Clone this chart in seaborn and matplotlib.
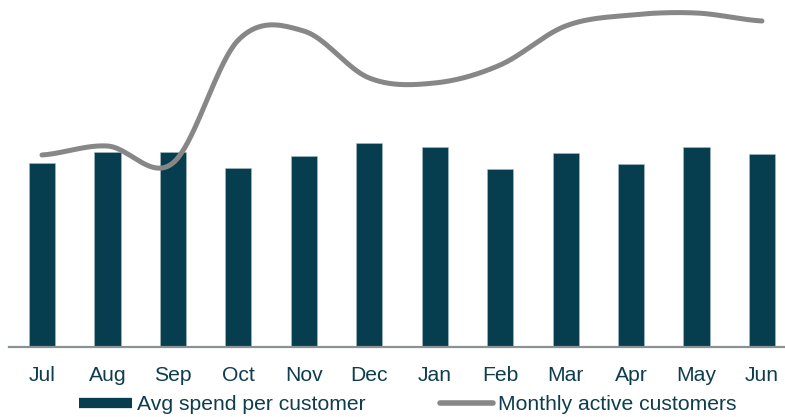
import numpy as np
import pandas as pd
import matplotlib
matplotlib.use("Agg")
import matplotlib.pyplot as plt
from matplotlib.lines import Line2D
import seaborn as sns

months = ["Jul", "Aug", "Sep", "Oct", "Nov", "Dec", "Jan", "Feb", "Mar", "Apr", "May", "Jun"]
avg_spend = [46.0, 48.8, 48.8, 44.8, 47.8, 51.0, 50.0, 44.5, 48.5, 45.8, 50.0, 48.3]
active_customers = [9.6, 10.05, 9.2, 15.35, 15.8, 13.45, 13.2, 14.1, 16.05, 16.6, 16.7, 16.3]

BAR_COLOR = "#073e4f"
LINE_COLOR = "#878787"
TEXT_COLOR = "#0e3d4e"
AXIS_COLOR = "#8a9294"
FONT_SIZE = 15.2

sns.set_theme(style="white")
plt.rcParams["font.family"] = ["Liberation Sans", "DejaVu Sans"]

fig = plt.figure(figsize=(7.85, 4.17), dpi=100)
W, H = 785, 417
step = 65.45
left_px = 42 - 0.5 * step
ax = fig.add_axes([left_px / W, 70 / H, 12 * step / W, 347 / H])

df = pd.DataFrame({"month": months, "spend": avg_spend})
sns.barplot(data=df, x="month", y="spend", color=BAR_COLOR, saturation=1,
            width=0.4, edgecolor="#a9c0c6", linewidth=0.4, ax=ax)
ax.set_xlim(-0.5, 11.5)
ax.set_ylim(0, 86.75)
ax.set_xlabel("")
ax.set_ylabel("")
ax.set_yticks([])
for s in ["left", "right", "top"]:
    ax.spines[s].set_visible(False)
ax.spines["bottom"].set_color(AXIS_COLOR)
ax.spines["bottom"].set_linewidth(1.6)
ax.tick_params(axis="x", length=0, pad=14, labelsize=FONT_SIZE, labelcolor=TEXT_COLOR)

# Smoothed line (cubic Hermite / Catmull-Rom through each monthly value)
ax2 = ax.twinx()
y = np.asarray(active_customers, dtype=float)
n = len(y)
tang = np.empty(n)
tang[1:-1] = (y[2:] - y[:-2]) / 2
tang[0] = (y[1] - y[0]) / 2
tang[-1] = (y[-1] - y[-2]) / 2
xs, ys = [], []
t = np.linspace(0, 1, 40)
h00 = 2 * t**3 - 3 * t**2 + 1
h10 = t**3 - 2 * t**2 + t
h01 = -2 * t**3 + 3 * t**2
h11 = t**3 - t**2
for i in range(n - 1):
    xs.append(i + t)
    ys.append(h00 * y[i] + h10 * tang[i] + h01 * y[i + 1] + h11 * tang[i + 1])
ax2.plot(np.concatenate(xs), np.concatenate(ys), color=LINE_COLOR, lw=3.6,
         solid_capstyle="round", solid_joinstyle="round")
ax2.set_ylim(0, 17.35)
ax2.set_yticks([])
for s in ["left", "right", "top", "bottom"]:
    ax2.spines[s].set_visible(False)

handles = [
    Line2D([], [], color=BAR_COLOR, lw=7.4, solid_capstyle="butt"),
    Line2D([], [], color=LINE_COLOR, lw=4.0, solid_capstyle="round"),
]
fig.legend(handles, ["Avg spend per customer", "Monthly active customers"],
           loc="center", bbox_to_anchor=(408 / W, 12 / H), ncol=2, frameon=False,
           fontsize=FONT_SIZE, labelcolor=TEXT_COLOR, handlelength=2.5,
           handletextpad=0.25, columnspacing=3.5, borderaxespad=0, borderpad=0)

fig.savefig("out.png", dpi=100)
